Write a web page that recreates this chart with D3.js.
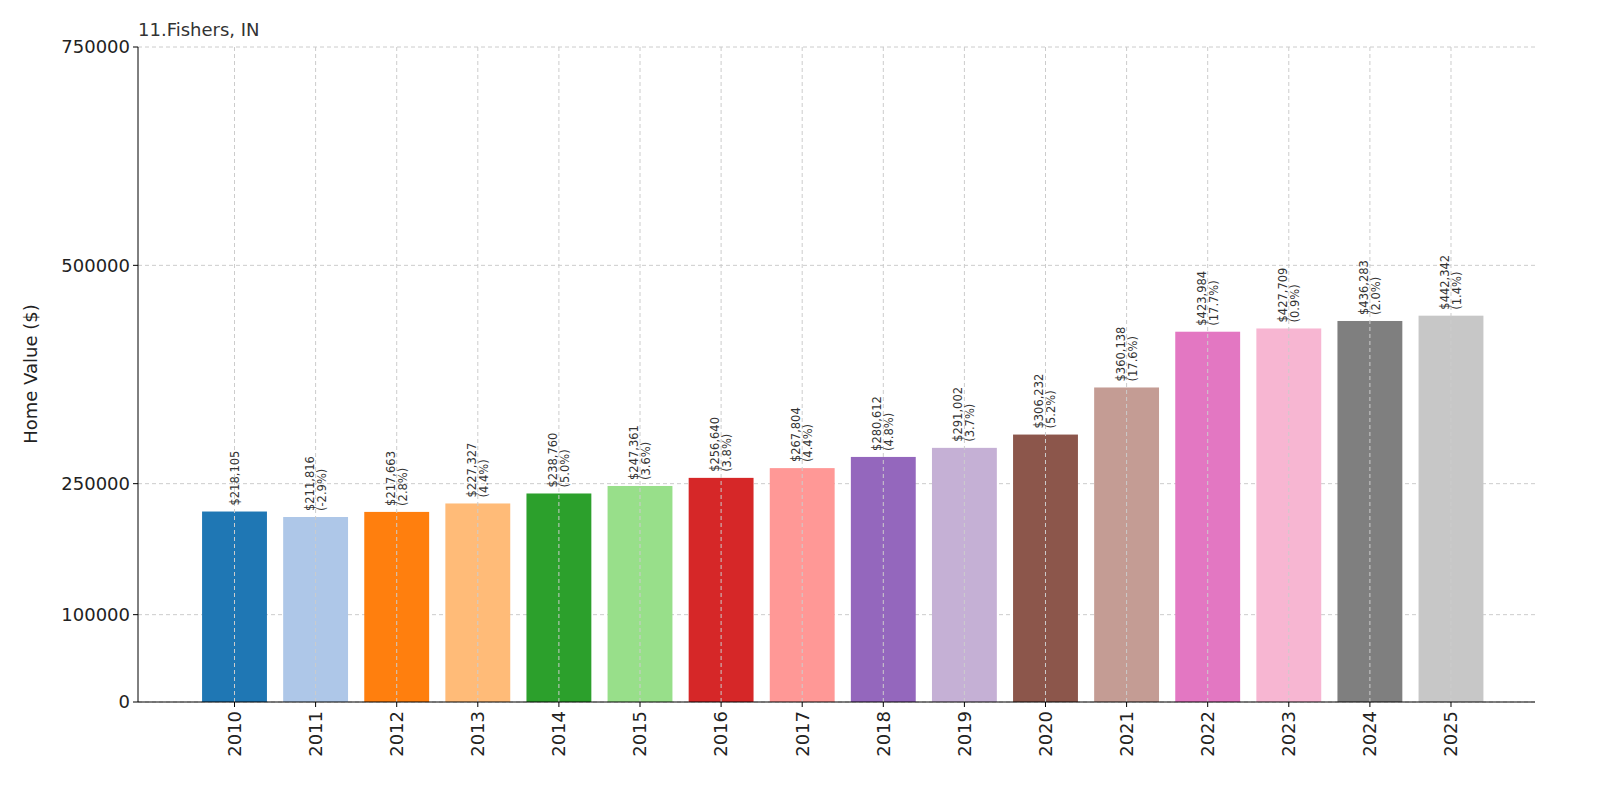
<!DOCTYPE html>
<html><head><meta charset="utf-8">
<script src="https://cdn.jsdelivr.net/npm/d3@7"></script>
<style>body{margin:0;background:#fff;font-family:"DejaVu Sans",sans-serif}</style>
</head><body><svg id="c" width="1600" height="800"></svg>
<script>
const years=["2010","2011","2012","2013","2014","2015","2016","2017","2018","2019","2020","2021","2022","2023","2024","2025"];
const values=[218105,211816,217663,227327,238760,247361,256640,267804,280612,291002,306232,360138,423984,427709,436283,442342];
const changes=[null,"-2.9%","2.8%","4.4%","5.0%","3.6%","3.8%","4.4%","4.8%","3.7%","5.2%","17.6%","17.7%","0.9%","2.0%","1.4%"];
const colors=["#1f77b4","#aec7e8","#ff7f0e","#ffbb78","#2ca02c","#98df8a","#d62728","#ff9896","#9467bd","#c5b0d5","#8c564b","#c49c94","#e377c2","#f7b6d2","#7f7f7f","#c7c7c7"];
const yTicks=[0,100000,250000,500000,750000];
const svg=d3.select("#c");
const L=138,R=1535,T=47,B=702;
const x=d3.scaleLinear().domain([-1.19,16.19]).range([138,1547.5]);
const y=d3.scaleLinear().domain([0,750000]).range([B,T]);
const bw=x(0.8)-x(0);
// grid
svg.append("g").selectAll("line").data(yTicks).join("line")
 .attr("x1",L).attr("x2",R).attr("y1",d=>y(d)).attr("y2",d=>y(d))
 .attr("stroke","#ccc").attr("stroke-dasharray","4,3");
// bars
svg.append("g").selectAll("rect").data(values).join("rect")
 .attr("x",(d,i)=>x(i)-bw/2).attr("width",bw).attr("y",d=>y(d)).attr("height",d=>B-y(d))
 .attr("fill",(d,i)=>colors[i]);
svg.append("g").selectAll("line").data(years).join("line")
 .attr("x1",(d,i)=>x(i)).attr("x2",(d,i)=>x(i)).attr("y1",T).attr("y2",B)
 .attr("stroke","#ccc").attr("stroke-dasharray","4,3");
// labels
values.forEach((v,i)=>{
 const t=svg.append("text").attr("transform",`translate(${x(i)},${y(v)-6}) rotate(-90)`)
  .attr("font-size",11.5).attr("fill","#333");
 t.append("tspan").attr("x",0).attr("dy",changes[i]?-2:4).text("$"+d3.format(",")(v));
 if(changes[i]) t.append("tspan").attr("x",0).attr("dy",12).text("("+changes[i]+")");
});
// axes
svg.append("line").attr("x1",L).attr("x2",L).attr("y1",T).attr("y2",B).attr("stroke","#000");
svg.append("line").attr("x1",L).attr("x2",R).attr("y1",B).attr("y2",B).attr("stroke","#000");
yTicks.forEach(t=>{
 svg.append("line").attr("x1",L-5).attr("x2",L).attr("y1",y(t)).attr("y2",y(t)).attr("stroke","#000");
 svg.append("text").attr("x",L-8).attr("y",y(t)).attr("dy","0.35em").attr("text-anchor","end")
  .attr("font-size",18).attr("fill","#222").text(t);
});
years.forEach((yr,i)=>{
 svg.append("line").attr("x1",x(i)).attr("x2",x(i)).attr("y1",B).attr("y2",B+5).attr("stroke","#000");
 svg.append("text").attr("transform",`translate(${x(i)},${B+9}) rotate(-90)`).attr("dy","0.35em")
  .attr("text-anchor","end").attr("font-size",18).attr("fill","#222").text(yr);
});
svg.append("text").attr("transform","translate(37,374) rotate(-90)").attr("text-anchor","middle")
 .attr("font-size",18).attr("fill","#222").text("Home Value ($)");
svg.append("text").attr("x",L).attr("y",36).attr("font-size",18).attr("fill","#333").text("11.Fishers, IN");
</script></body></html>
